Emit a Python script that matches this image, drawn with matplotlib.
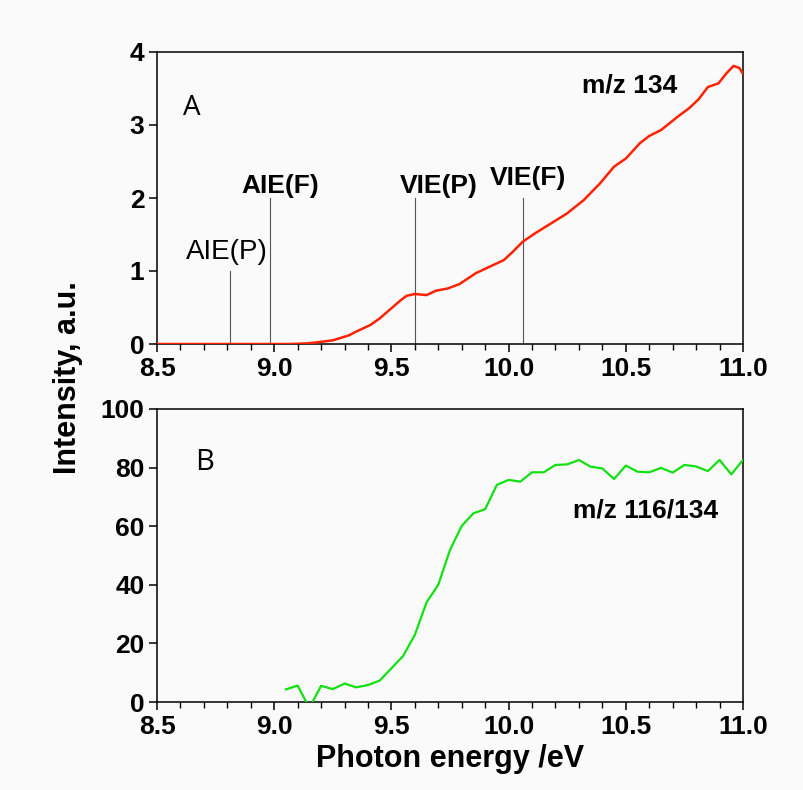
import matplotlib
matplotlib.use("Agg")
import matplotlib.pyplot as plt
from matplotlib.ticker import MultipleLocator

# ---- Panel A data (m/z 134) ----
energy_a = [8.50, 9.00, 9.07, 9.15, 9.20, 9.25, 9.28, 9.32, 9.35, 9.41, 9.45,
            9.50, 9.54, 9.565, 9.60, 9.65, 9.69, 9.74, 9.79, 9.86, 9.92,
            9.98, 10.02, 10.06, 10.11, 10.16, 10.25, 10.32, 10.39, 10.45,
            10.50, 10.56, 10.60, 10.65, 10.72, 10.77, 10.81, 10.85, 10.895,
            10.93, 10.96, 10.985, 11.00]
intensity_a = [0, 0, 0, 0.01, 0.03, 0.05, 0.08, 0.12, 0.17, 0.26, 0.35,
               0.49, 0.60, 0.66, 0.685, 0.67, 0.73, 0.76, 0.82, 0.97, 1.06,
               1.15, 1.27, 1.40, 1.51, 1.61, 1.79, 1.97, 2.20, 2.43,
               2.54, 2.75, 2.85, 2.93, 3.11, 3.23, 3.35, 3.52, 3.57,
               3.71, 3.81, 3.78, 3.70]

# marker lines (energy, height, label)
marker_energy = [8.81, 8.98, 9.60, 10.06]
marker_height = [1, 2, 2, 2]
marker_labels = ["AIE(P)", "AIE(F)", "VIE(P)", "VIE(F)"]

# ---- Panel B data (m/z 116/134) ----
energy_b = [9.05, 9.10, 9.15, 9.20, 9.25, 9.30, 9.35, 9.40, 9.45, 9.50, 9.55,
            9.60, 9.65, 9.70, 9.75, 9.80, 9.85, 9.90, 9.95, 10.00, 10.05,
            10.10, 10.15, 10.20, 10.25, 10.30, 10.35, 10.40, 10.45, 10.50,
            10.55, 10.60, 10.65, 10.70, 10.75, 10.80, 10.85, 10.90, 10.95, 11.00]
ratio_b = [4.3, 5.6, -2.0, 5.5, 4.4, 6.3, 5.0, 5.8, 7.3, 11.5, 15.7,
           22.9, 34.0, 40.0, 51.9, 60.1, 64.4, 65.8, 74.1, 75.8, 75.2,
           78.4, 78.4, 80.9, 81.1, 82.6, 80.3, 79.7, 76.1, 80.7,
           78.6, 78.4, 79.9, 78.3, 80.9, 80.4, 78.8, 82.6, 77.7, 82.6]

xticks = [8.5, 9.0, 9.5, 10.0, 10.5, 11.0]
xticklabels = ["8.5", "9.0", "9.5", "10.0", "10.5", "11.0"]

bg = "#fafafa"
fig = plt.figure(figsize=(8.04, 7.90), dpi=100, facecolor=bg)
axA = fig.add_axes([157/804, 1-344/790, 586/804, 292/790])
axB = fig.add_axes([157/804, 1-702/790, 586/804, 293/790])

fam = ["Liberation Sans", "DejaVu Sans"]
for ax in (axA, axB):
    ax.set_facecolor(bg)
    ax.set_xlim(8.5, 11.0)
    ax.set_xticks(xticks)
    ax.set_xticklabels(xticklabels)
    ax.xaxis.set_minor_locator(MultipleLocator(0.1))
    ax.tick_params(axis="both", which="major", direction="out", length=6,
                   width=1.1, pad=3, labelsize=19)
    ax.tick_params(axis="x", which="minor", direction="out", length=4, width=1.0)
    for s in ax.spines.values():
        s.set_linewidth(1.1)

# Panel A
axA.set_ylim(0, 4)
axA.set_yticks([0, 1, 2, 3, 4])
axA.plot(energy_a, intensity_a, color="#ff2200", lw=1.8, zorder=3,
         solid_joinstyle="round", solid_capstyle="round")
for e, h in zip(marker_energy, marker_height):
    axA.plot([e, e], [0, h], color="#555555", lw=0.8, zorder=2)
axA.text(8.612, 3.14, "A", fontsize=20, family=["Open Sans", "DejaVu Sans"], ha="left", va="baseline")
axA.text(8.624, 1.16, marker_labels[0], fontsize=20, family=fam, ha="left", va="baseline")
axA.text(8.861, 2.07, marker_labels[1], fontsize=19, family=fam, weight="bold", ha="left", va="baseline")
axA.text(9.537, 2.07, marker_labels[2], fontsize=19, family=fam, weight="bold", ha="left", va="baseline")
axA.text(9.918, 2.18, marker_labels[3], fontsize=19, family=fam, weight="bold", ha="left", va="baseline")
axA.text(10.312, 3.44, "m/z 134", fontsize=19, family=fam, weight="bold", ha="left", va="baseline")

# Panel B
axB.set_ylim(0, 100)
axB.set_yticks([0, 20, 40, 60, 80, 100])
axB.plot(energy_b, ratio_b, color="#11e011", lw=1.6, zorder=3, clip_on=True)
axB.text(8.662, 79.2, "B", fontsize=21, family=["Open Sans", "DejaVu Sans"], ha="left", va="baseline")
axB.text(10.275, 63.1, "m/z 116/134", fontsize=19, family=fam, weight="bold", ha="left", va="baseline")

for ax in (axA, axB):
    for lab in ax.get_xticklabels() + ax.get_yticklabels():
        lab.set_fontfamily(fam)
        lab.set_fontweight("bold")

axB.set_xlabel("Photon energy /eV", fontsize=22, family=fam, weight="bold", labelpad=4)
fig.text(68/804, 1-378/790, "Intensity, a.u.", rotation=90, fontsize=22, family=fam,
         weight="bold", ha="center", va="center")

fig.savefig("out.png", dpi=100, facecolor=bg)
